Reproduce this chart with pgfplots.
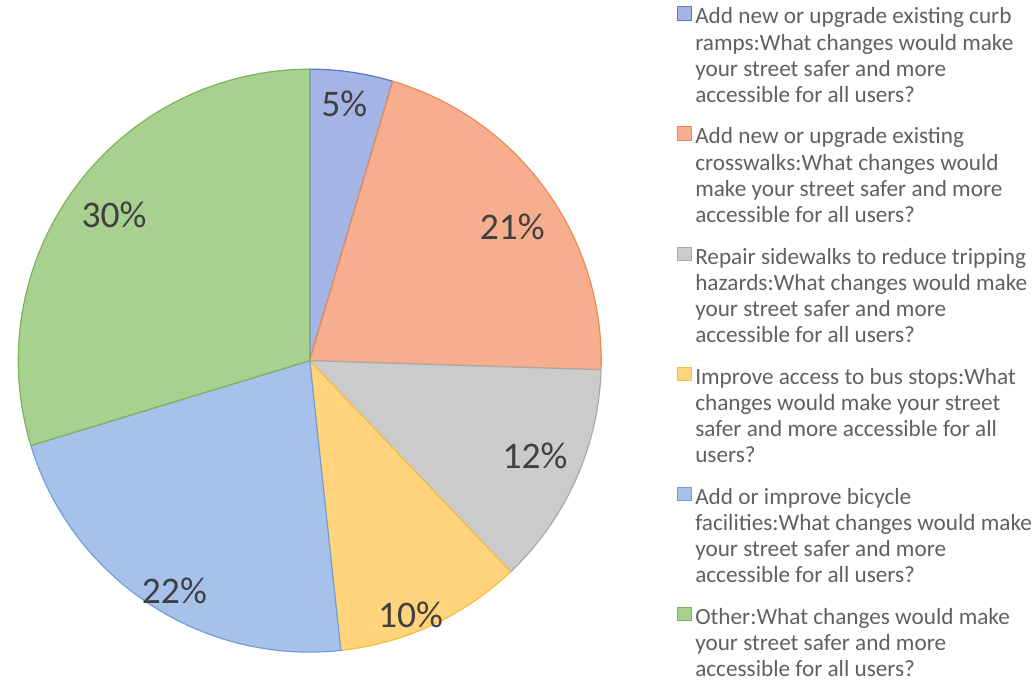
\documentclass[border=0pt]{standalone}
\usepackage{pgfplots}
\pgfplotsset{compat=1.18}
\usepackage{pgfplotstable}
\usepackage{fontspec}
\setmainfont{Carlito}

\definecolor{fA}{HTML}{A4B4E4}\definecolor{eA}{HTML}{5A77C4}
\definecolor{fB}{HTML}{F7AE8E}\definecolor{eB}{HTML}{EE8A50}
\definecolor{fC}{HTML}{CBCBCB}\definecolor{eC}{HTML}{A9A9A9}
\definecolor{fD}{HTML}{FFD47C}\definecolor{eD}{HTML}{F5C040}
\definecolor{fE}{HTML}{A6C2EA}\definecolor{eE}{HTML}{6F9FD8}
\definecolor{fF}{HTML}{A8D08E}\definecolor{eF}{HTML}{7DB35A}
\definecolor{lbl}{HTML}{404040}
\definecolor{legtxt}{HTML}{606060}

% share (percent), shown label, fill, edge, label position (px, y up)
\pgfplotstableread{
value label fill edge lx ly
4.6  5  fA eA 339 590
20.9 21 fB eB 509 465
12.4 12 fC eC 532 234
10.4 10 fD eD 406 73
22.0 22 fE eE 167 97
29.7 30 fF eF 106 478
}\piedata

\begin{document}
\begin{tikzpicture}
\begin{axis}[
  hide axis, scale only axis, clip=false,
  width=1032bp, height=695bp,
  xmin=0, xmax=1032, ymin=0, ymax=695,
]
\addplot[draw=none, forget plot] coordinates {(0,0) (1032,695)};
\pgfplotsextra{
  \pgfplotstablegetrowsof{\piedata}
  \pgfmathtruncatemacro{\nrows}{\pgfplotsretval-1}
  \xdef\cum{0}
  \foreach \i in {0,...,\nrows}{
    \pgfplotstablegetelem{\i}{value}\of{\piedata}\let\v\pgfplotsretval
    \pgfplotstablegetelem{\i}{fill}\of{\piedata}\edef\fc{\pgfplotsretval}
    \pgfplotstablegetelem{\i}{edge}\of{\piedata}\edef\ec{\pgfplotsretval}
    \pgfmathsetmacro{\a}{90-3.6*\cum}
    \pgfmathsetmacro{\b}{90-3.6*(\cum+\v)}
    \filldraw[fill=\fc, draw=\ec, line width=1.2bp, line join=round]
      (axis cs:304,330) -- ++(\a:295bp) arc[start angle=\a, end angle=\b, radius=295bp] -- cycle;
    \pgfmathsetmacro{\c}{\cum+\v}
    \xdef\cum{\c}
  }
  \foreach \i in {0,...,\nrows}{
    \pgfplotstablegetelem{\i}{label}\of{\piedata}\edef\lab{\pgfplotsretval}
    \pgfplotstablegetelem{\i}{lx}\of{\piedata}\edef\lx{\pgfplotsretval}
    \pgfplotstablegetelem{\i}{ly}\of{\piedata}\edef\ly{\pgfplotsretval}
    \node[text=lbl, font=\fontsize{38bp}{44bp}\selectfont, inner sep=0pt]
      at (axis cs:\lx,\ly) {\lab\%};
  }
  % legend
  \foreach \k/\f/\e/\t in {
    0/fA/eA/{Add new or upgrade existing curb\\ramps:What changes would make\\your street safer and more\\accessible for all users?},
    1/fB/eB/{Add new or upgrade existing\\crosswalks:What changes would\\make your street safer and more\\accessible for all users?},
    2/fC/eC/{Repair sidewalks to reduce tripping\\hazards:What changes would make\\your street safer and more\\accessible for all users?},
    3/fD/eD/{Improve access to bus stops:What\\changes would make your street\\safer and more accessible for all\\users?},
    4/fE/eE/{Add or improve bicycle\\facilities:What changes would make\\your street safer and more\\accessible for all users?},
    5/fF/eF/{Other:What changes would make\\your street safer and more\\accessible for all users?}}{
    \pgfmathsetmacro{\yb}{695-24-121.5*\k}
    \filldraw[fill=\f, draw=\e, line width=1bp]
      (axis cs:676,\yb+3) rectangle (axis cs:690,\yb+17);
    \node[anchor=north west, inner sep=0pt, align=left, text=legtxt,
      font=\fontsize{23.5bp}{26.5bp}\selectfont] at (axis cs:694,\yb+18.55) {\strut\t};
  }
}
\end{axis}
\end{tikzpicture}
\end{document}
